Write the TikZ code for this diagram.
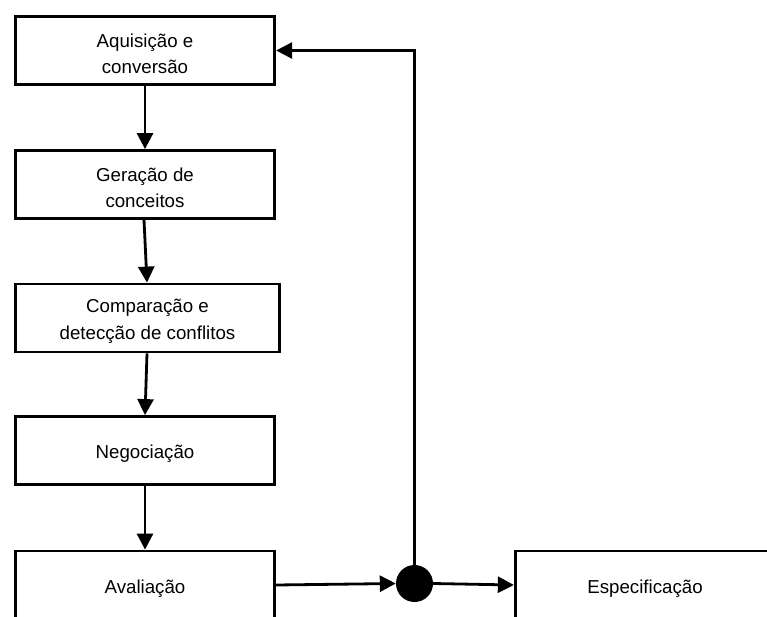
\documentclass[tikz,border=0pt]{standalone}
\usepackage{fontspec}
\setmainfont{Liberation Sans}
\usetikzlibrary{arrows.meta}

\begin{document}
\begin{tikzpicture}[x=1pt,y=-1pt,
  stagebox/.style={draw=black, line width=2.8pt, fill=white,
    minimum width=259.5pt, minimum height=68pt, inner sep=0pt,
    label={[stagetext]center:#1}},
  stagetext/.style={align=center, yshift=-3.5pt, inner sep=0pt,
    font=\fontsize{18.7}{26.5}\selectfont},
  flow/.style={line width=2.8pt, -{Triangle[length=16pt,width=16pt]}},
  junction/.style={circle, fill=black, minimum size=37pt, inner sep=0pt}]

  \useasboundingbox (0,0) rectangle (767,617);
  \clip (0,0) rectangle (767,617);

  % process stages
  \node[stagebox={Aquisição e\\conversão}] (acq) at (145,50.5) {};
  \node[stagebox={Geração de\\conceitos}] (gen) at (145,184.5) {};
  \node[stagebox={Comparação e\\detecção de conflitos}, minimum width=264pt] (cmp) at (147.5,318) {};
  \node[stagebox={Negociação}] (neg) at (145,450.5) {};
  \node[stagebox={Avaliação}] (aval) at (145,585) {};
  \node[stagebox={Especificação}] (spec) at (645,585) {};

  % decision point
  \node[junction] (dot) at (414.5,583.5) {};

  % main flow
  \draw[flow] (acq.south) -- (gen.north);
  \draw[flow] ([xshift=-1pt]gen.south) -- ([xshift=-0.5pt]cmp.north);
  \draw[flow] ([xshift=-0.5pt]cmp.south) -- (neg.north);
  \draw[flow] (neg.south) -- (aval.north);
  \draw[flow] (aval.east) -- (dot.west);
  \draw[flow] (dot.east) -- (spec.west);

  % feedback loop back to the first stage
  \draw[flow] (dot.north) |- (acq.east);
\end{tikzpicture}
\end{document}
